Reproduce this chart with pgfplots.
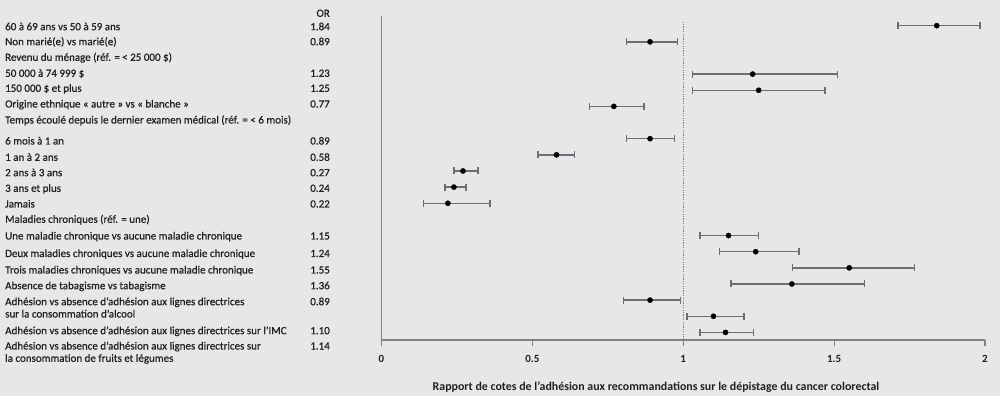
\documentclass[border=0pt]{standalone}
\usepackage{pgfplots}
\pgfplotsset{compat=1.18}
\usepackage{pgfplotstable}
\usepackage{fontspec}
\setmainfont{Carlito}
\newfontfamily\labfont{Carlito}[FakeBold=0.6]
\definecolor{bg}{HTML}{E6E7E8}
\definecolor{txt}{HTML}{231F20}
\definecolor{barc}{HTML}{6D6E71}
\definecolor{axc}{HTML}{808285}

\pgfplotstableread{
y or lo hi
-1 1.84 1.711 1.983
-2 0.89 0.812 0.980
-4 1.23 1.031 1.512
-5 1.25 1.031 1.470
-6 0.77 0.689 0.870
-8 0.89 0.812 0.971
-9 0.58 0.519 0.640
-10 0.27 0.240 0.320
-11 0.24 0.210 0.280
-12 0.22 0.140 0.360
-14 1.15 1.056 1.250
-15 1.24 1.121 1.383
-16 1.55 1.362 1.766
-17 1.36 1.158 1.601
-18 0.89 0.802 0.991
-19 1.10 1.012 1.201
-20 1.14 1.056 1.232
}\datatable

\newcommand{\lab}[3]{%
  \node[anchor=base west, inner sep=0pt, text=txt, font=\labfont\fontsize{11}{13}\selectfont] at (5,{396-#1-3.5}) {#2};%
  \node[anchor=base east, inner sep=0pt, text=txt, font=\labfont\fontsize{11}{13}\selectfont] at (330,{396-#1-3.5}) {#3};%
}

\begin{document}
\begin{tikzpicture}[x=1pt,y=1pt]
\fill[bg] (0,0) rectangle (1000,396);
\begin{axis}[
  at={(381.5pt,56pt)}, anchor=south west,
  scale only axis, width=603.5pt, height=324pt,
  xmin=0, xmax=2, ymin=-20.47, ymax=-0.4,
  axis lines*=left,
  ytick=\empty,
  xtick={0,0.5,1,1.5,2},
  xticklabels={0,0.5,1,1.5,2},
  tick align=outside, major tick length=6pt,
  axis line style={axc, line width=1.1pt},
  tick style={axc, line width=1.1pt},
  xticklabel style={font=\bfseries\fontsize{11}{13}\selectfont, text=txt, yshift=-6pt},
  clip=false,
]
\draw[axc, dash pattern=on 1.2pt off 1.2pt, line width=1.1pt] (axis cs:1,-0.75) -- (axis cs:1,-20.47);
\addplot[only marks, mark=*, mark size=2.6pt, black,
  error bars/.cd, x dir=both, x explicit,
  error bar style={barc, line width=1.4pt},
  error mark options={barc, line width=1.4pt, mark size=3.5pt, rotate=90}]
  table[x=or, y=y, x error plus expr=\thisrow{hi}-\thisrow{or}, x error minus expr=\thisrow{or}-\thisrow{lo}] {\datatable};
\end{axis}
\node[anchor=base, inner sep=0pt, text=txt, font=\bfseries\fontsize{11.9}{13}\selectfont] at (656,{396-386.5-4}) {Rapport de cotes de l’adhésion aux recommandations sur le dépistage du cancer colorectal};
\lab{13.3}{}{OR}
\lab{26.7}{60 à 69 ans vs 50 à 59 ans}{1.84}
\lab{41.7}{Non marié(e) vs marié(e)}{0.89}
\lab{57.3}{Revenu du ménage (réf. = < 25 000 \$)}{}
\lab{73.3}{50 000 à 74 999 \$}{1.23}
\lab{88.3}{150 000 \$ et plus}{1.25}
\lab{104}{Origine ethnique « autre » vs « blanche »}{0.77}
\lab{120}{Temps écoulé depuis le dernier examen médical (réf. = < 6 mois)}{}
\lab{141}{6 mois à 1 an}{0.89}
\lab{157.3}{1 an à 2 ans}{0.58}
\lab{172.7}{2 ans à 3 ans}{0.27}
\lab{188.3}{3 ans et plus}{0.24}
\lab{204}{Jamais}{0.22}
\lab{219.3}{Maladies chroniques (réf. = une)}{}
\lab{236}{Une maladie chronique vs aucune maladie chronique}{1.15}
\lab{253.5}{Deux maladies chroniques vs aucune maladie chronique}{1.24}
\lab{270}{Trois maladies chroniques vs aucune maladie chronique}{1.55}
\lab{285.7}{Absence de tabagisme vs tabagisme}{1.36}
\lab{301.7}{Adhésion vs absence d’adhésion aux lignes directrices}{0.89}
\lab{314}{sur la consommation d’alcool}{}
\lab{330.7}{Adhésion vs absence d’adhésion aux lignes directrices sur l’IMC}{1.10}
\lab{346}{Adhésion vs absence d’adhésion aux lignes directrices sur}{1.14}
\lab{358.3}{la consommation de fruits et légumes}{}
\end{tikzpicture}
\end{document}
